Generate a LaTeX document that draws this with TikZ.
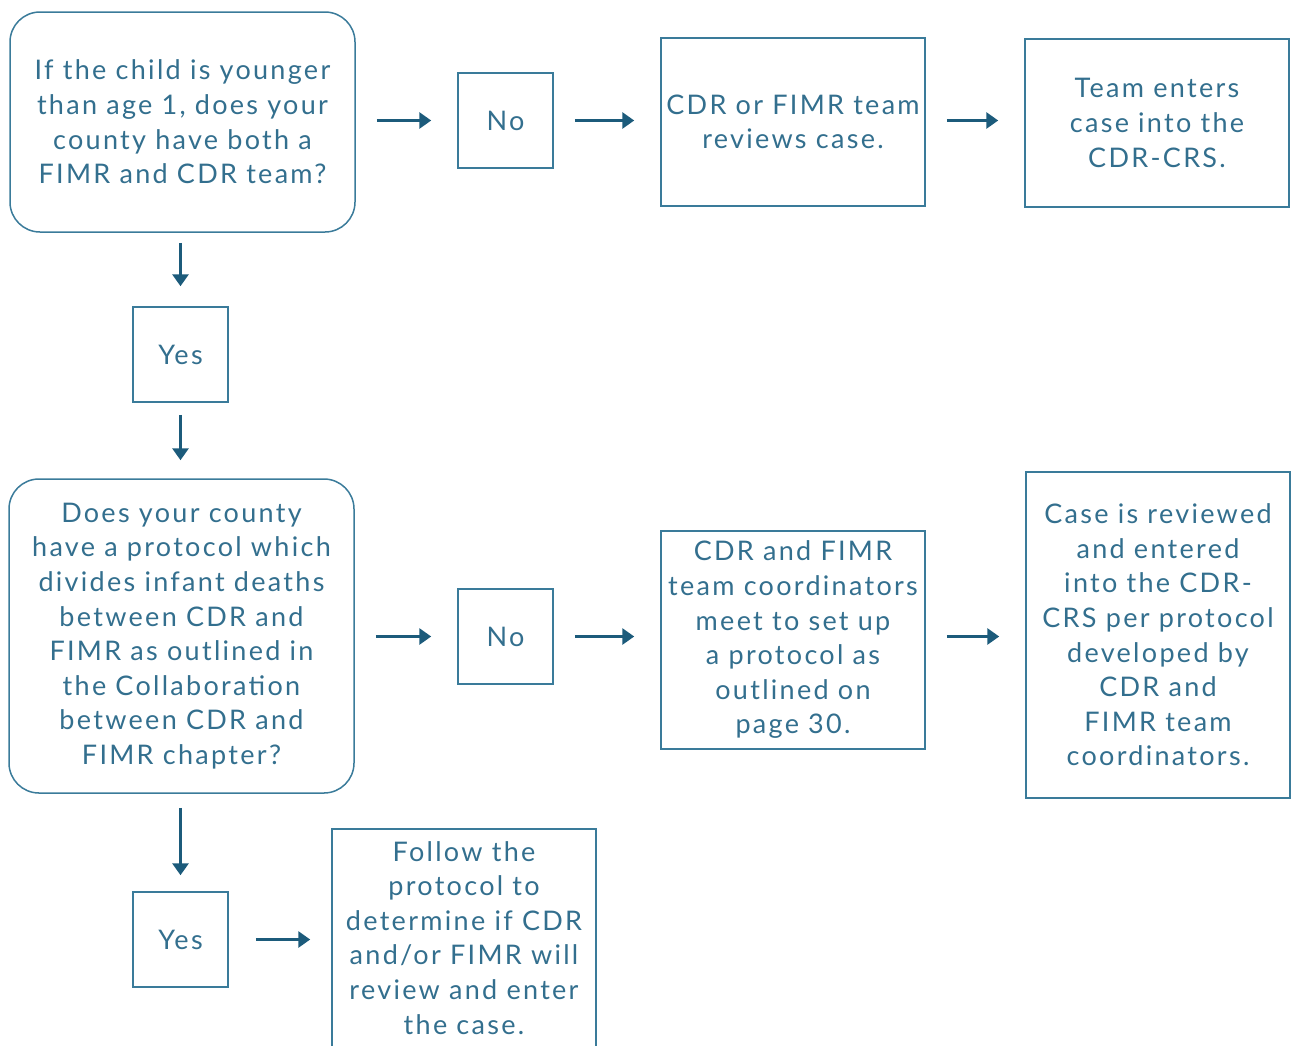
\documentclass[tikz,border=0pt]{standalone}
\usepackage{fontspec}
\setmainfont[LetterSpace=8.5]{Lato}
\usepackage{tikz}
\usetikzlibrary{arrows.meta}

\definecolor{boxcol}{HTML}{3A7B9A}
\definecolor{txtcol}{HTML}{336F8E}
\definecolor{arrcol}{HTML}{1C5B7B}

\begin{document}
\begin{tikzpicture}[
  x=0.5pt, y=-0.5pt,
  fbox/.style={draw=boxcol,line width=0.75pt,rectangle,align=center,
    text=txtcol,inner sep=0pt,font=\fontsize{13.5}{17.3}\selectfont},
  qbox/.style={fbox,rounded corners=15pt},
  abox/.style={fbox,minimum width=47.5pt,minimum height=47.5pt},
  flow/.style={draw=arrcol,line width=1.5pt,-{Triangle[length=6pt,width=8pt]},
    shorten <=10.5pt,shorten >=13pt},
  down/.style={flow,shorten <=6pt,shorten >=9pt}
]
  \useasboundingbox (0,0) rectangle (1291,1045);

  % questions
  \node[qbox,minimum width=172.5pt,minimum height=110pt] (q1) at (182.5,122)
    {If the child is younger\\than age 1, does your\\county have both a\\FIMR and CDR team?};
  \node[qbox,minimum width=172.5pt,minimum height=157pt] (q2) at (181.5,636)
    {Does your county\\have a protocol which\\divides infant deaths\\between CDR and\\FIMR as outlined in\\the Collaboration\\between CDR and\\FIMR chapter?};

  % answers
  \node[abox] (no1) at (505.5,120.5) {No};
  \node[abox] (yes1) at (180.5,354.5) {Yes};
  \node[abox] (no2) at (505.5,636.5) {No};
  \node[abox] (yes2) at (180.5,939.5) {Yes};

  % actions
  \node[fbox,minimum width=132pt,minimum height=84pt] (rev) at (793,122)
    {CDR or FIMR team\\reviews case.};
  \node[fbox,minimum width=132pt,minimum height=84pt] (ent) at (1157,123)
    {Team enters\\case into the\\CDR-CRS.};
  \node[fbox,minimum width=132pt,minimum height=109pt] (coord) at (793,640)
    {CDR and FIMR\\team coordinators\\meet to set up\\a protocol as\\outlined on\\page 30.};
  \node[fbox,minimum width=132pt,minimum height=163pt] (case) at (1158,635)
    {Case is reviewed\\and entered\\into the CDR-\\CRS per protocol\\developed by\\CDR and\\FIMR team\\coordinators.};
  \node[fbox,minimum width=132pt,minimum height=109pt,anchor=north] (fol) at (464,828)
    {Follow the\\protocol to\\determine if CDR\\and/or FIMR will\\review and enter\\the case.};

  % first row
  \draw[flow] (no1 -| q1.east) -- (no1);
  \draw[flow] (no1) -- (no1 -| rev.west);
  \draw[flow] (no1 -| rev.east) -- (no1 -| ent.west);

  % down the left side
  \draw[flow,shorten <=5pt,shorten >=10pt] (q1.south -| yes1) -- (yes1);
  \draw[down] (yes1) -- (yes1 |- q2.north);
  \draw[flow,shorten <=7pt,shorten >=8pt] (q2.south -| yes2) -- (yes2);

  % second row
  \draw[flow] (no2 -| q2.east) -- (no2);
  \draw[flow] (no2) -- (no2 -| coord.west);
  \draw[flow] (no2 -| coord.east) -- (no2 -| case.west);

  % last answer
  \draw[flow,shorten <=13.5pt,shorten >=10.5pt] (yes2) -- (yes2 -| fol.west);

\end{tikzpicture}
\end{document}
